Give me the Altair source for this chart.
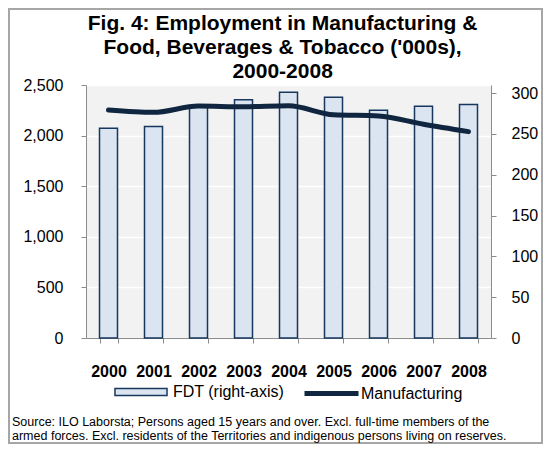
import altair as alt
import pandas as pd

years = ["2000", "2001", "2002", "2003", "2004", "2005", "2006", "2007", "2008"]
fdt = [257, 259, 284, 292, 301, 295, 279, 284, 286]          # right axis
manufacturing = [2253, 2230, 2292, 2285, 2295, 2206, 2194, 2112, 2039]  # left axis

left_ticks = [0, 500, 1000, 1500, 2000, 2500]
right_ticks = [0, 50, 100, 150, 200, 250, 300]

title_lines = ["Fig. 4: Employment in Manufacturing &",
               "Food, Beverages & Tobacco ('000s),",
               "2000-2008"]
source_lines = ["Source: ILO Laborsta; Persons aged 15 years and over. Excl. full-time members of the",
                "armed forces. Excl. residents of the Territories and indigenous persons living on reserves."]
bar_label = "FDT (right-axis)"
line_label = "Manufacturing"

FONT = "Liberation Sans"
W, H = 405, 253
PL, PT, PR, PB = 78, 77, 52, 106

df = pd.DataFrame({"year": years, "fdt": fdt, "manufacturing": manufacturing})

xenc = alt.X("year:O",
             scale=alt.Scale(paddingInner=0.6, paddingOuter=0.3),
             axis=alt.Axis(title=None, labelAngle=0, labelFontWeight="bold",
                           labelFontSize=16, labelFont=FONT, labelColor="black",
                           tickBand="extent", tickSize=5, tickColor="#8c8c8c",
                           domainColor="#8c8c8c", labelPadding=20))

bars = alt.Chart(df).transform_calculate(s1=f"'{bar_label}'").mark_bar(
    stroke="#17375e", strokeWidth=1.5
).encode(
    x=xenc,
    y=alt.Y("fdt:Q",
            scale=alt.Scale(domain=[0, 310], nice=False),
            axis=alt.Axis(orient="right", values=right_ticks, grid=False, title=None,
                          labelFontSize=16, labelFont=FONT, labelColor="black",
                          tickSize=5, tickColor="#8c8c8c", domainColor="#8c8c8c",
                          labelPadding=15)),
    fill=alt.Fill("s1:N", scale=alt.Scale(domain=[bar_label], range=["#dbe5f1"]),
                  legend=alt.Legend(title=None, orient="none", legendX=28, legendY=280,
                                    symbolType="M-1,-0.135H1V0.135H-1Z", symbolSize=2704,
                                    symbolStrokeColor="#17375e", symbolStrokeWidth=1.5,
                                    labelFontSize=16, labelFont=FONT, labelColor="black",
                                    labelOffset=5, padding=0)),
)

line = alt.Chart(df).transform_calculate(s2=f"'{line_label}'").mark_line(
    strokeWidth=5, interpolate="monotone", strokeCap="round"
).encode(
    x=alt.X("year:O", bandPosition=0.5),
    y=alt.Y("manufacturing:Q",
            scale=alt.Scale(domain=[0, 2500], nice=False),
            axis=alt.Axis(orient="left", values=left_ticks, format=",.0f", grid=True,
                          gridColor="white", gridWidth=1.5, title=None,
                          labelFontSize=16, labelFont=FONT, labelColor="black",
                          tickSize=5, tickColor="#8c8c8c", domainColor="#8c8c8c",
                          labelPadding=18)),
    stroke=alt.Stroke("s2:N", scale=alt.Scale(domain=[line_label], range=["#10253f"]),
                      legend=alt.Legend(title=None, orient="none", legendX=216, legendY=279,
                                        symbolType="M-1,0H1", symbolSize=2916,
                                        symbolStrokeWidth=5, symbolFillColor="transparent",
                                        labelFontSize=16, labelFont=FONT, labelColor="black",
                                        labelOffset=0, padding=0)),
)

title = alt.Chart(pd.DataFrame({"k": [0]})).mark_text(
    text=title_lines, align="center", baseline="alphabetic", fontSize=21,
    fontWeight="bold", lineHeight=24, font=FONT, color="black"
).encode(x=alt.value(196.6), y=alt.value(-55))

source = alt.Chart(pd.DataFrame({"k": [0]})).mark_text(
    text=source_lines, align="left", baseline="alphabetic", fontSize=12.5, lineHeight=14,
    font=FONT, color="black"
).encode(x=alt.value(-74), y=alt.value(341))

border = alt.Chart(pd.DataFrame({"k": [0]})).mark_rect(
    fill="transparent", stroke="#a6a6a6", strokeWidth=2
).encode(x=alt.value(-PL + 1), x2=alt.value(W + PR - 1),
         y=alt.value(-PT + 1), y2=alt.value(H + PB - 1))

chart = alt.layer(border, bars, line, title, source).resolve_scale(
    y="independent", fill="independent", stroke="independent"
).resolve_legend(fill="independent", stroke="independent").properties(
    width=W, height=H,
    padding={"left": PL, "top": PT, "right": PR, "bottom": PB},
    autosize=alt.AutoSizeParams(type="none"),
).configure_view(stroke=None, fill="#f2f2f2")

chart.save("out.html", embed_options={"renderer": "svg", "actions": False})
